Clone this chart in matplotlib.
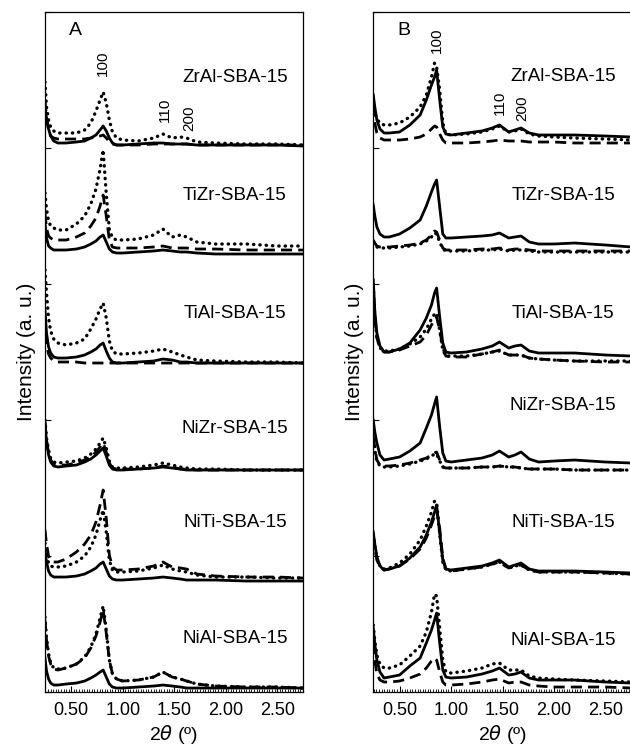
import matplotlib
matplotlib.use("Agg")
import matplotlib.pyplot as plt
import numpy as np
from matplotlib.ticker import MultipleLocator

plt.rcParams['font.family'] = ['Liberation Sans', 'DejaVu Sans']

samples = ["ZrAl-SBA-15", "TiZr-SBA-15", "TiAl-SBA-15",
           "NiZr-SBA-15", "NiTi-SBA-15", "NiAl-SBA-15"]
offsets = [547, 438, 329, 222, 112, 4]

# ---------------- panel A ----------------
x_a = [0.245, 0.26, 0.28, 0.30, 0.33, 0.37, 0.45, 0.55, 0.63, 0.69, 0.74, 0.78, 0.81, 0.84, 0.87,
       0.90, 0.94, 1.00, 1.15, 1.30, 1.39, 1.48, 1.56, 1.62, 1.72, 1.90, 2.20, 2.50, 2.75]

a_zral_dot = [63, 38, 25, 18, 14, 12, 12, 12, 15, 22, 34, 45, 53, 42, 25, 13, 7, 5, 4, 7, 11, 7, 8, 7, 3, 2, 1, 1, 0]
a_zral_sol = [38, 26, 16, 9, 4, 2, 2, 3, 4, 7, 10, 15, 19, 14, 7, 2, 0, 0, 1, 2, 2, 1, 1, 1, 0, 0, 0, 0, -1]
a_zral_das = [45, 28, 15, 9, 7, 6, 6, 6, 6, 7, 8, 9, 10, 7, 3, 1, 0, 0, 0, 1, 1, 1, 1, 1, 0, 0, 0, 0, 0]

a_tizr_dot = [61, 45, 33, 28, 26, 24, 24, 30, 38, 50, 65, 85, 104, 60, 25, 16, 14, 14, 15, 19, 25, 17, 19, 17, 12, 10, 10, 8, 8]
a_tizr_sol = [31, 16, 8, 6, 4, 4, 4, 5, 7, 10, 13, 17, 19, 12, 5, 2, 1, 1, 2, 3, 4, 3, 2, 2, 1, 0, 0, 0, 0]
a_tizr_das = [41, 26, 18, 16, 14, 14, 14, 17, 21, 28, 36, 48, 59, 38, 14, 7, 6, 6, 6, 7, 8, 6, 6, 6, 5, 5, 4, 4, 4]

a_tial_dot = [93, 70, 45, 32, 24, 20, 18, 20, 24, 34, 44, 54, 60, 45, 22, 12, 9, 9, 10, 12, 14, 11, 8, 6, 3, 2, 1, 1, 0]
a_tial_sol = [53, 30, 16, 10, 6, 5, 5, 6, 8, 11, 14, 18, 20, 12, 5, 1, 0, 0, 1, 2, 4, 3, 1, 1, 0, 0, 0, 0, 0]
a_tial_das = [30, 18, 9, 5, 2, 1, 1, 1, 0, 0, 0, 0, 0, 0, 0, 0, 0, 0, 0, 0, 0, 0, 0, 0, 0, 0, 0, 0, 0]

a_nizr_dot = [50, 32, 20, 12, 8, 7, 8, 9, 12, 16, 21, 27, 32, 22, 9, 3, 2, 2, 3, 5, 7, 5, 3, 2, 1, 1, 0, 0, 0]
a_nizr_sol = [47, 28, 15, 8, 4, 3, 4, 5, 8, 11, 15, 19, 22, 14, 5, 1, 0, 0, 1, 2, 3, 2, 1, 0, 0, 0, 0, 0, 0]
a_nizr_das = [48, 30, 17, 10, 6, 5, 5, 7, 10, 13, 18, 23, 27, 18, 7, 2, 1, 1, 1, 2, 4, 3, 1, 1, 0, 0, 0, 0, 0]

a_niti_dot = [37, 25, 17, 14, 13, 13, 14, 18, 24, 33, 45, 60, 70, 48, 20, 10, 8, 8, 9, 12, 15, 11, 9, 8, 5, 3, 3, 2, 2]
a_niti_sol = [30, 18, 9, 5, 3, 3, 3, 4, 6, 9, 12, 16, 18, 11, 4, 1, 0, 0, 1, 2, 3, 2, 1, 0, 0, 0, -1, -1, -1]
a_niti_das = [50, 36, 24, 20, 18, 18, 21, 28, 36, 45, 58, 75, 90, 62, 25, 13, 10, 10, 11, 14, 18, 13, 12, 11, 6, 4, 3, 3, 2]

a_nial_dot = [71, 50, 34, 25, 20, 19, 20, 24, 31, 41, 54, 70, 82, 58, 28, 14, 9, 7, 8, 11, 16, 11, 9, 7, 4, 2, 1, 1, 0]
a_nial_sol = [30, 17, 9, 5, 3, 3, 4, 5, 7, 10, 13, 16, 18, 11, 4, 1, 0, 0, 1, 2, 3, 2, 1, 0, 0, 0, 0, 0, 0]
a_nial_das = [68, 48, 32, 24, 19, 18, 20, 24, 30, 40, 52, 66, 78, 55, 28, 14, 9, 7, 8, 11, 16, 11, 9, 7, 4, 2, 1, 1, 0]

# ---------------- panel B ----------------
x_b = [0.245, 0.26, 0.28, 0.31, 0.35, 0.40, 0.50, 0.60, 0.70, 0.76, 0.81, 0.84, 0.86, 0.89, 0.92,
       0.95, 1.00, 1.15, 1.30, 1.40, 1.47, 1.56, 1.62, 1.68, 1.76, 1.85, 2.00, 2.20, 2.50, 2.75]

b_zral_sol = [50, 38, 25, 16, 12, 12, 13, 20, 30, 45, 60, 68, 75, 45, 18, 11, 10, 12, 14, 17, 20, 13, 15, 17, 12, 10, 10, 10, 9, 8]
b_zral_dot = [42, 32, 26, 22, 20, 20, 22, 28, 38, 50, 68, 82, 78, 55, 22, 11, 10, 11, 13, 16, 19, 13, 14, 16, 11, 9, 8, 7, 6, 5]
b_zral_das = [40, 22, 12, 7, 5, 5, 5, 6, 8, 11, 16, 19, 18, 11, 5, 2, 2, 2, 3, 4, 5, 4, 4, 4, 3, 3, 3, 2, 2, 2]

b_tizr_sol = [49, 38, 27, 20, 17, 17, 20, 26, 34, 48, 62, 70, 74, 47, 20, 16, 16, 17, 18, 19, 21, 16, 17, 18, 12, 10, 10, 11, 9, 7]
b_tizr_dot = [12, 10, 7, 6, 6, 6, 7, 8, 10, 13, 17, 21, 20, 12, 5, 3, 3, 3, 4, 4, 5, 3, 4, 4, 3, 2, 2, 2, 2, 2]
b_tizr_das = [14, 11, 8, 7, 7, 7, 8, 9, 11, 14, 19, 23, 22, 14, 6, 4, 4, 4, 5, 5, 6, 4, 5, 5, 4, 3, 3, 3, 3, 3]

b_tial_sol = [83, 52, 30, 17, 11, 11, 14, 20, 33, 45, 58, 70, 75, 46, 20, 11, 10, 11, 14, 17, 21, 15, 17, 18, 12, 10, 10, 10, 8, 7]
b_tial_dot = [77, 44, 26, 15, 12, 12, 14, 19, 26, 34, 44, 49, 50, 33, 13, 7, 7, 7, 9, 11, 12, 8, 8, 8, 5, 4, 3, 2, 2, 2]
b_tial_das = [80, 45, 25, 15, 11, 11, 13, 17, 21, 28, 38, 44, 46, 33, 15, 7, 6, 6, 9, 11, 13, 8, 8, 8, 5, 4, 3, 2, 1, 1]

b_nizr_sol = [50, 38, 27, 15, 10, 11, 13, 19, 27, 42, 55, 66, 73, 43, 17, 9, 8, 10, 12, 15, 19, 13, 15, 18, 11, 8, 9, 10, 8, 7]
b_nizr_dot = [30, 20, 9, 4, 3, 3, 4, 6, 9, 11, 14, 16, 16, 9, 3, 2, 2, 2, 3, 3, 4, 3, 3, 2, 1, 1, 1, 0, 0, 0]
b_nizr_das = [33, 22, 10, 5, 4, 4, 5, 7, 10, 12, 15, 17, 18, 10, 3, 2, 2, 2, 3, 3, 4, 3, 3, 2, 1, 1, 1, 0, 0, 0]

b_niti_sol = [48, 36, 23, 14, 10, 11, 14, 22, 33, 45, 58, 68, 75, 47, 20, 11, 10, 12, 14, 17, 20, 13, 15, 17, 11, 9, 9, 9, 8, 7]
b_niti_dot = [46, 34, 22, 14, 11, 12, 17, 26, 40, 54, 68, 79, 78, 46, 18, 10, 9, 11, 13, 16, 18, 12, 14, 15, 10, 8, 8, 8, 7, 6]
b_niti_das = [44, 32, 20, 13, 10, 11, 14, 21, 31, 42, 55, 64, 70, 52, 22, 11, 9, 11, 13, 16, 18, 12, 14, 15, 10, 8, 8, 8, 7, 6]

b_nial_sol = [60, 44, 28, 16, 10, 11, 13, 22, 30, 45, 58, 68, 75, 45, 18, 11, 10, 11, 14, 17, 20, 13, 14, 16, 10, 8, 8, 8, 6, 5]
b_nial_dot = [63, 47, 33, 24, 20, 20, 23, 32, 42, 56, 76, 94, 92, 60, 28, 16, 15, 17, 20, 24, 25, 18, 18, 18, 12, 10, 9, 8, 7, 6]
b_nial_das = [45, 28, 14, 8, 6, 6, 7, 10, 14, 20, 27, 30, 28, 16, 6, 3, 3, 4, 6, 8, 9, 5, 6, 6, 3, 2, 1, 1, 1, 0]

curves_a = [(a_zral_dot, a_zral_das, a_zral_sol), (a_tizr_dot, a_tizr_das, a_tizr_sol),
            (a_tial_dot, a_tial_das, a_tial_sol), (a_nizr_dot, a_nizr_das, a_nizr_sol),
            (a_niti_dot, a_niti_das, a_niti_sol), (a_nial_dot, a_nial_das, a_nial_sol)]
curves_b = [(b_zral_dot, b_zral_das, b_zral_sol), (b_tizr_dot, b_tizr_das, b_tizr_sol),
            (b_tial_dot, b_tial_das, b_tial_sol), (b_nizr_dot, b_nizr_das, b_nizr_sol),
            (b_niti_dot, b_niti_das, b_niti_sol), (b_nial_dot, b_nial_das, b_nial_sol)]

label_y_a = [614, 497, 379, 264, 170, 54]
label_y_b = [615, 497, 379, 287, 170, 52]

# (2theta, height) of the (hkl) labels
hkl = ["100", "110", "200"]
hkl_a = [(0.81, 629), (1.41, 582), (1.65, 574)]
hkl_b = [(0.86, 652), (1.47, 589), (1.69, 584)]

fig = plt.figure(figsize=(6.3, 7.45), dpi=100)
ax_a = fig.add_axes([0.0714, 0.0711, 0.4095, 0.9128])
ax_b = fig.add_axes([0.5925, 0.0711, 0.4095, 0.9128])

styles = [dict(linestyle=(0, (0.1, 1.8)), dash_capstyle='round', lw=2.4),
          dict(linestyle=(0, (4.0, 2.2)), lw=2.0),
          dict(linestyle='-', lw=2.0)]


def draw_panel(ax, x, curves, label_y, hkl_pos, letter):
    x = np.array(x)
    for k, triple in enumerate(curves):
        for y, st in zip(triple, styles):
            ax.plot(x, np.array(y) + offsets[k], color='black', **st)
        ax.text(2.09, label_y[k], samples[k], fontsize=13.5, ha='center', va='center')
    for lab, (px, py) in zip(hkl, hkl_pos):
        ax.text(px, py, lab, rotation=90, fontsize=11, ha='center', va='center')
    ax.text(0.54, 661, letter, fontsize=14, ha='center', va='center')

    ax.set_xlim(0.245, 2.75)
    ax.set_ylim(0, 680)
    ax.set_yticks(np.arange(0, 681, 136))
    ax.set_yticklabels([])
    ax.xaxis.set_minor_locator(MultipleLocator(0.025))
    ax.set_xticks([0.5, 1.0, 1.5, 2.0, 2.5])
    ax.set_xticklabels(["0.50", "1.00", "1.50", "2.00", "2.50"], fontsize=13)
    ax.tick_params(axis='x', which='major', direction='in', length=4, width=0.8, pad=7)
    ax.tick_params(axis='x', which='minor', direction='in', length=2.5, width=0.6)
    ax.tick_params(axis='y', which='major', direction='in', length=4, width=0.8, left=True, right=False)
    for sp in ax.spines.values():
        sp.set_linewidth(0.9)
    ax.set_xlabel(r"2$\theta$ (º)", fontsize=14, labelpad=3)
    ax.set_ylabel("Intensity (a. u.)", fontsize=15, labelpad=3)


draw_panel(ax_a, x_a, curves_a, label_y_a, hkl_a, "A")
draw_panel(ax_b, x_b, curves_b, label_y_b, hkl_b, "B")

fig.savefig("out.png", dpi=100)
